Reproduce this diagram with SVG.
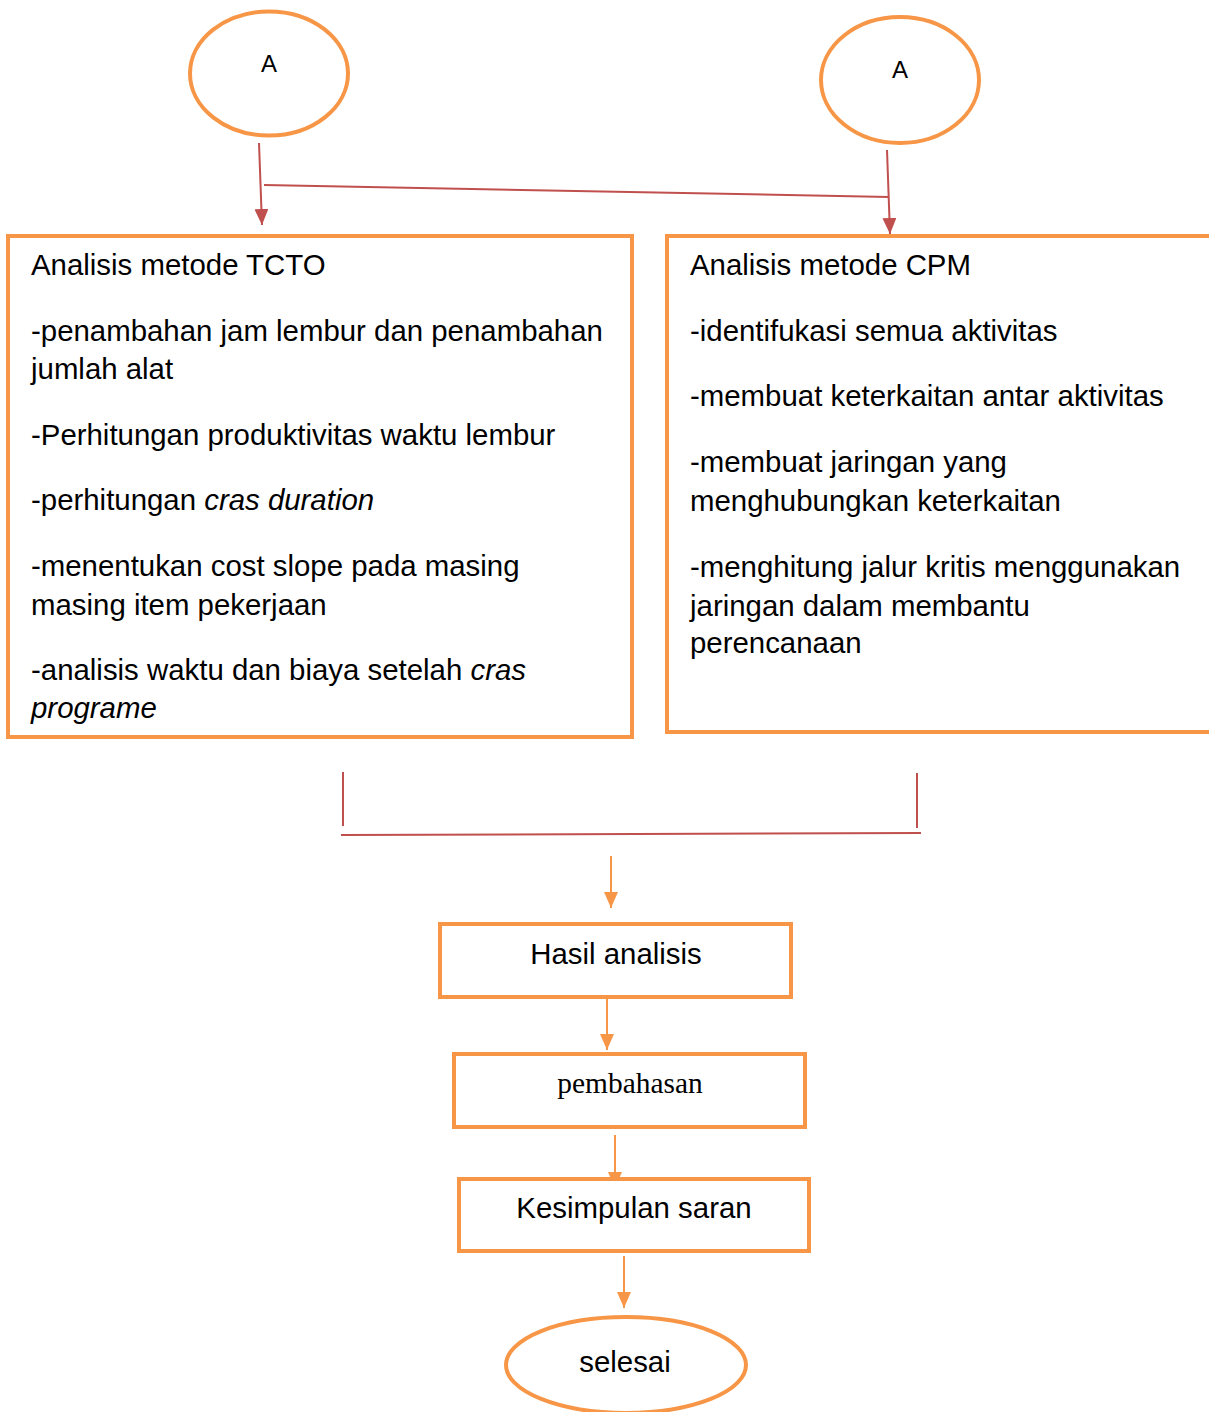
<svg xmlns="http://www.w3.org/2000/svg" width="1209" height="1412" viewBox="0 0 1209 1412">
  <defs>
    <marker id="arrRed" viewBox="0 0 16 14" refX="16" refY="7" markerWidth="16" markerHeight="14" markerUnits="userSpaceOnUse" orient="auto">
      <path d="M0,0 L16,7 L0,14 Z" fill="#C0504D"/>
    </marker>
    <marker id="arrOrange" viewBox="0 0 16 14" refX="16" refY="7" markerWidth="16" markerHeight="14" markerUnits="userSpaceOnUse" orient="auto">
      <path d="M0,0 L16,7 L0,14 Z" fill="#F79646"/>
    </marker>
  </defs>
  <style>
    .node { fill: #FFFFFF; stroke: #F79646; stroke-width: 4; }
    .red { stroke: #C0504D; stroke-width: 2; fill: none; }
    .org { stroke: #F79646; stroke-width: 2; fill: none; }
    .t { font-family: "Liberation Sans", Arial, sans-serif; font-size: 29.4px; fill: #000; }
    .ts { font-family: "Liberation Sans", Arial, sans-serif; font-size: 24px; fill: #000; }
    .serif { font-family: "Liberation Serif", "Times New Roman", serif; font-size: 29.4px; fill: #000; }
    .i { font-style: italic; }
  </style>

  <rect width="1209" height="1412" fill="#FFFFFF"/>

  <!-- connectors -->
  <g id="connectors">
    <line class="red" x1="259" y1="143" x2="262" y2="225" marker-end="url(#arrRed)"/>
    <line class="red" x1="264" y1="185" x2="889" y2="197"/>
    <line class="red" x1="887" y1="150" x2="890" y2="234" marker-end="url(#arrRed)"/>
    <line class="red" x1="343" y1="772" x2="343" y2="826"/>
    <line class="red" x1="917" y1="773" x2="917" y2="828"/>
    <line class="red" x1="341" y1="835" x2="921" y2="833"/>
    <line class="org" x1="611" y1="856" x2="611" y2="908" marker-end="url(#arrOrange)"/>
    <line class="org" x1="607" y1="998" x2="607" y2="1050" marker-end="url(#arrOrange)"/>
    <line class="org" x1="615" y1="1135" x2="615" y2="1188" marker-end="url(#arrOrange)"/>
    <line class="org" x1="624" y1="1256" x2="624" y2="1308" marker-end="url(#arrOrange)"/>
  </g>

  <!-- start connector A (left) -->
  <g id="node-a-left">
    <ellipse class="node" cx="269" cy="73.5" rx="79" ry="62"/>
    <text class="ts" x="269" y="72" text-anchor="middle">A</text>
  </g>

  <!-- start connector A (right) -->
  <g id="node-a-right">
    <ellipse class="node" cx="900" cy="80" rx="79" ry="63"/>
    <text class="ts" x="900" y="78" text-anchor="middle">A</text>
  </g>

  <!-- TCTO analysis -->
  <g id="node-tcto">
    <rect class="node" x="8" y="236" width="624" height="501"/>
    <text class="t" x="31" y="275">Analisis metode TCTO</text>
    <text class="t" x="31" y="341">-penambahan jam lembur dan penambahan</text>
    <text class="t" x="31" y="379">jumlah alat</text>
    <text class="t" x="31" y="445">-Perhitungan produktivitas waktu lembur</text>
    <text class="t" x="31" y="510">-perhitungan <tspan class="i">cras duration</tspan></text>
    <text class="t" x="31" y="576">-menentukan cost slope pada masing</text>
    <text class="t" x="31" y="615">masing item pekerjaan</text>
    <text class="t" x="31" y="680">-analisis waktu dan biaya setelah <tspan class="i">cras</tspan></text>
    <text class="t i" x="31" y="718">programe</text>
  </g>

  <!-- CPM analysis -->
  <g id="node-cpm">
    <rect class="node" x="667" y="236" width="546" height="496"/>
    <text class="t" x="690" y="275">Analisis metode CPM</text>
    <text class="t" x="690" y="341">-identifukasi semua aktivitas</text>
    <text class="t" x="690" y="406">-membuat keterkaitan antar aktivitas</text>
    <text class="t" x="690" y="472">-membuat jaringan yang</text>
    <text class="t" x="690" y="511">menghubungkan keterkaitan</text>
    <text class="t" x="690" y="577">-menghitung jalur kritis menggunakan</text>
    <text class="t" x="690" y="616">jaringan dalam membantu</text>
    <text class="t" x="690" y="653">perencanaan</text>
  </g>

  <g id="node-hasil">
    <rect class="node" x="440" y="924" width="351" height="73"/>
    <text class="t" x="616" y="964" text-anchor="middle">Hasil analisis</text>
  </g>

  <g id="node-pembahasan">
    <rect class="node" x="454" y="1054" width="351" height="73"/>
    <text class="serif" x="630" y="1093" text-anchor="middle">pembahasan</text>
  </g>

  <g id="node-kesimpulan">
    <rect class="node" x="459" y="1179" width="350" height="72"/>
    <text class="t" x="634" y="1218" text-anchor="middle">Kesimpulan saran</text>
  </g>

  <g id="node-selesai">
    <ellipse class="node" cx="626" cy="1365" rx="120" ry="48"/>
    <text class="t" x="625" y="1372" text-anchor="middle">selesai</text>
  </g>
</svg>
